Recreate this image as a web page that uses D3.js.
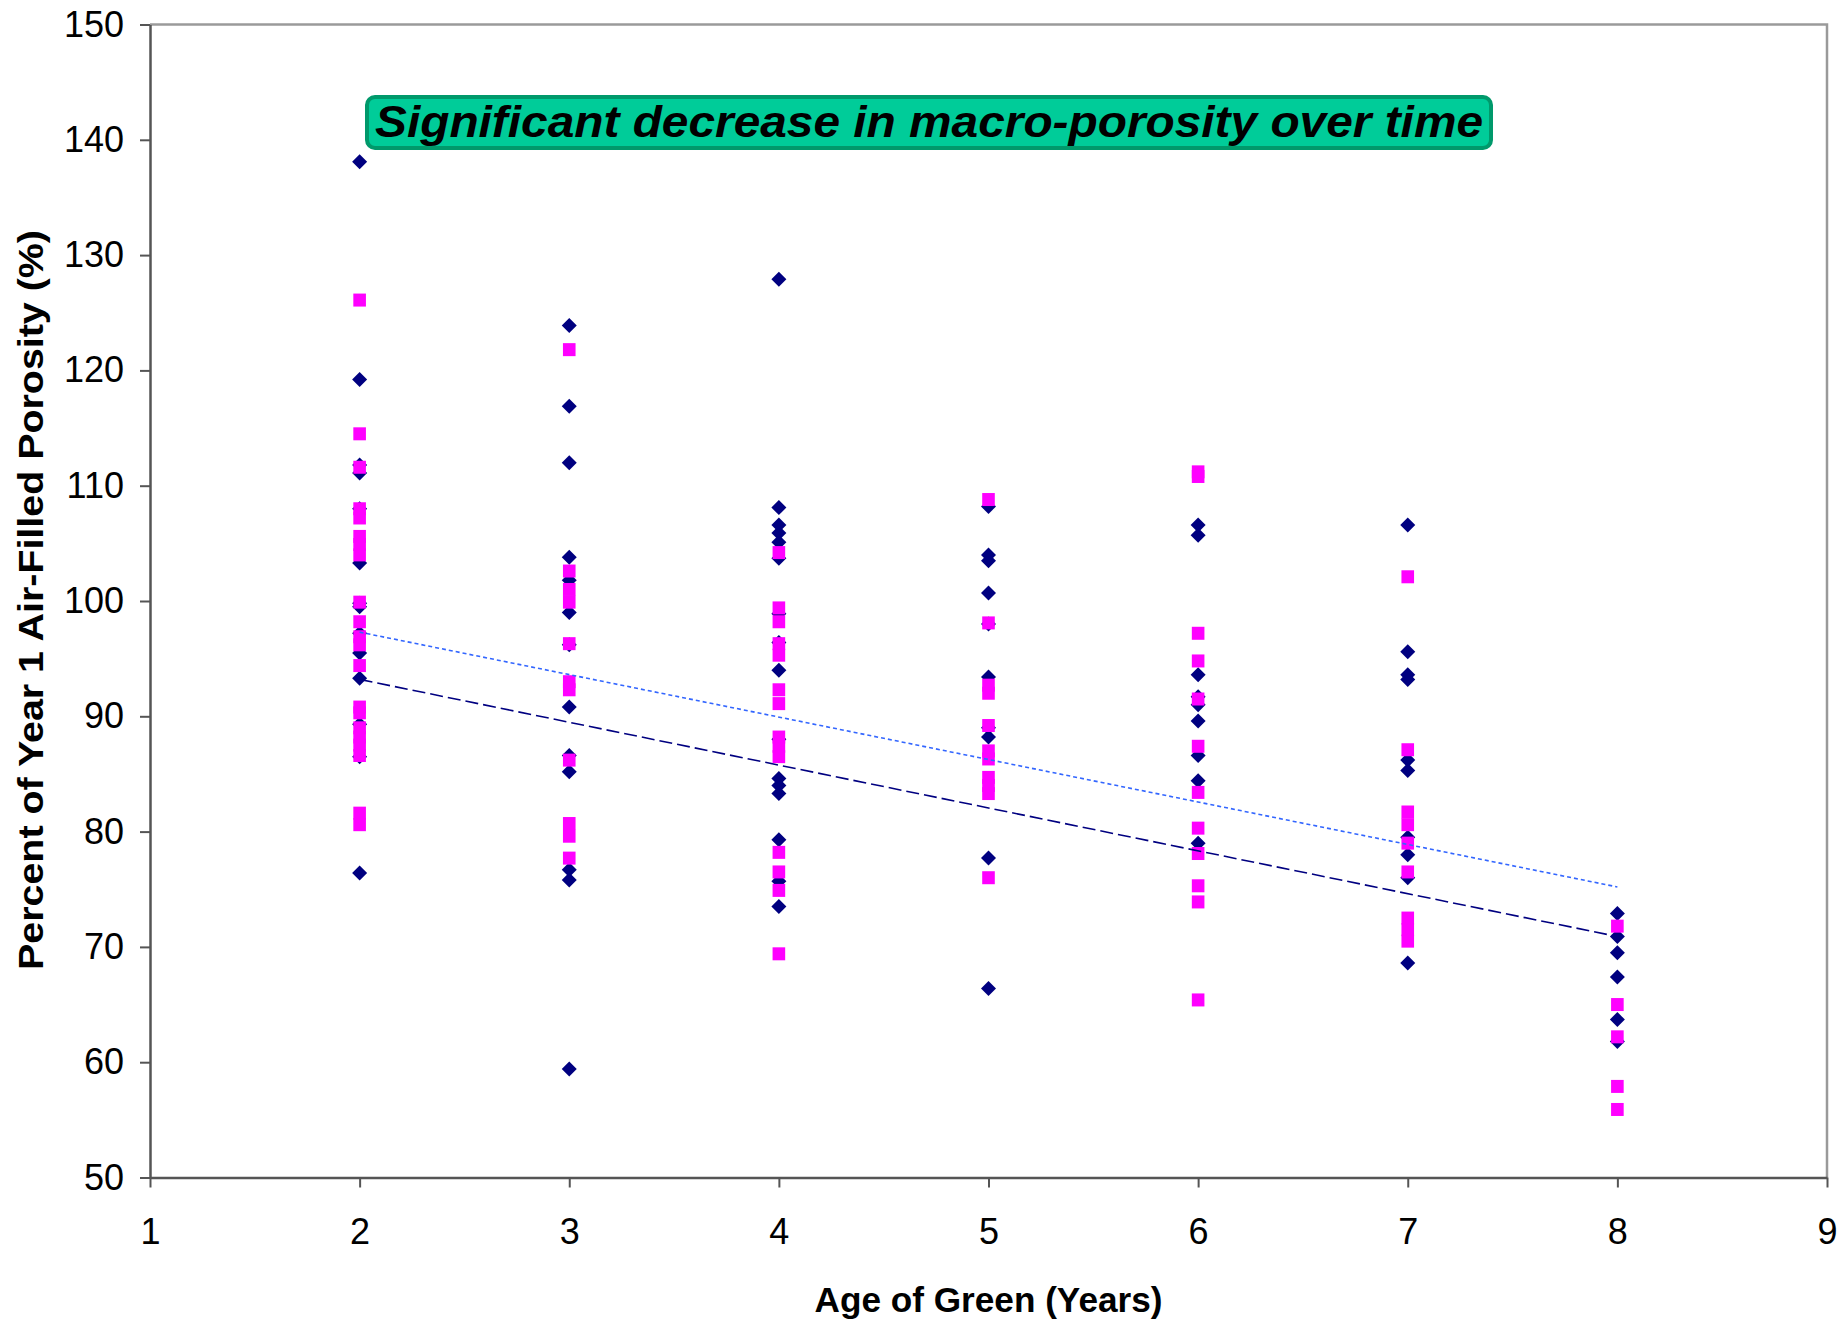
<!DOCTYPE html>
<html>
<head>
<meta charset="utf-8">
<script src="https://cdn.jsdelivr.net/npm/d3@7"></script>
<style>
  body { margin: 0; background: #fff; }
  text { font-family: "Liberation Sans", Arial, sans-serif; }
</style>
</head>
<body>
<svg id="chart"></svg>
<script>
// ages on the x axis (one column of points per age)
const ages = [2, 3, 4, 5, 6, 7, 8];

// navy diamonds, one list per age
const navyValues = [
  [138.1, 119.2, 111.8, 111.1, 108.0, 103.3, 99.8, 99.5, 97.2, 95.5, 93.3, 89.3, 86.5, 76.4],
  [123.9, 116.9, 112.0, 103.8, 101.8, 99.0, 96.2, 90.8, 86.6, 85.2, 76.7, 75.8, 59.4],
  [127.9, 108.1, 106.6, 105.9, 105.1, 103.7, 98.9, 96.4, 94.0, 88.0, 84.6, 84.0, 83.3, 79.3, 75.7, 73.5],
  [108.2, 104.0, 103.5, 100.7, 98.0, 93.4, 89.0, 88.2, 77.7, 66.4],
  [106.6, 105.7, 93.6, 91.7, 91.0, 89.6, 86.6, 84.4, 79.0],
  [106.6, 95.6, 93.6, 93.2, 86.2, 85.3, 79.5, 78.0, 76.0, 68.6],
  [72.9, 70.9, 69.5, 67.4, 63.7, 61.8]
];

// magenta squares, one list per age
const pinkValues = [
  [126.1, 114.5, 111.6, 108.0, 107.2, 105.6, 104.9, 104.0, 99.9, 98.2, 96.9, 96.2, 94.4, 90.8, 90.3, 89.0, 88.2, 87.5, 86.6, 81.6, 80.6],
  [121.8, 102.6, 101.0, 99.9, 96.3, 93.0, 92.3, 86.2, 80.7, 79.6, 77.7],
  [104.2, 99.4, 98.2, 96.3, 95.3, 92.3, 91.1, 88.2, 87.4, 86.5, 78.2, 76.5, 74.9, 69.4],
  [108.8, 98.1, 92.7, 92.0, 89.2, 87.0, 86.3, 84.7, 84.0, 83.3, 76.0],
  [111.2, 110.8, 97.2, 94.8, 91.5, 87.4, 83.4, 80.3, 78.1, 75.3, 73.9, 65.4],
  [102.1, 87.1, 81.7, 80.6, 79.0, 76.5, 72.5, 71.5, 70.5],
  [71.8, 65.0, 62.2, 57.9, 55.9]
];

// trend lines: value at first age, value at last age
const trendDotted = [97.3, 75.2];
const trendDashed = [93.2, 70.9];

const xTicks = [1, 2, 3, 4, 5, 6, 7, 8, 9];
const yTicks = [50, 60, 70, 80, 90, 100, 110, 120, 130, 140, 150];

const note = "Significant decrease in macro-porosity over time";
const xTitle = "Age of Green (Years)";
const yTitle = "Percent of Year 1 Air-Filled Porosity (%)";

const W = 1845, H = 1326;
const margin = { top: 24.5, right: 18, bottom: 148.5, left: 150 };
const width = W - margin.left - margin.right;
const height = H - margin.top - margin.bottom;

const svg = d3.select("#chart").attr("width", W).attr("height", H);
const g = svg.append("g").attr("transform", `translate(${margin.left},${margin.top})`);

const x = d3.scaleLinear().domain([1, 9]).range([0, width]);
const y = d3.scaleLinear().domain([50, 150]).range([height, 0]);

// plot border (top and right)
g.append("path")
  .attr("d", `M0,0H${width}V${height}`)
  .attr("fill", "none")
  .attr("stroke", "#9a9a9a")
  .attr("stroke-width", 2.5);

// axes
const yAxis = g.append("g")
  .call(d3.axisLeft(y).tickValues(yTicks).tickSize(10).tickPadding(16).tickSizeOuter(0));
const xAxis = g.append("g")
  .attr("transform", `translate(0,${height})`)
  .call(d3.axisBottom(x).tickValues(xTicks).tickSize(10).tickPadding(31).tickSizeOuter(0));

[xAxis, yAxis].forEach(ax => {
  ax.select(".domain").attr("stroke", "#555").attr("stroke-width", 2.5);
  ax.selectAll(".tick line").attr("stroke", "#555").attr("stroke-width", 2);
  ax.selectAll(".tick text")
    .attr("fill", "#000")
    .style("font-family", '"Liberation Sans", Arial, sans-serif')
    .style("font-size", "36px");
});

// points
let navyPoints = [], pinkPoints = [];
ages.forEach((a, i) => {
  navyValues[i].forEach(v => navyPoints.push({ age: a, value: v }));
  pinkValues[i].forEach(v => pinkPoints.push({ age: a, value: v }));
});

g.append("g").selectAll("path")
  .data(navyPoints)
  .join("path")
  .attr("transform", d => `translate(${x(d.age)},${y(d.value)})`)
  .attr("d", "M0,-7.5L7.5,0L0,7.5L-7.5,0Z")
  .attr("fill", "#000080");

g.append("g").selectAll("rect")
  .data(pinkPoints)
  .join("rect")
  .attr("x", d => x(d.age) - 6.3)
  .attr("y", d => y(d.value) - 6.5)
  .attr("width", 12.6)
  .attr("height", 13)
  .attr("fill", "#ff00ff");

// trend lines
const firstAge = ages[0], lastAge = ages[ages.length - 1];
g.append("line")
  .attr("x1", x(firstAge)).attr("y1", y(trendDotted[0]))
  .attr("x2", x(lastAge)).attr("y2", y(trendDotted[1]))
  .attr("stroke", "#3366ff")
  .attr("stroke-width", 1.6)
  .attr("stroke-dasharray", "4,3");
g.append("line")
  .attr("x1", x(firstAge)).attr("y1", y(trendDashed[0]))
  .attr("x2", x(lastAge)).attr("y2", y(trendDashed[1]))
  .attr("stroke", "#000080")
  .attr("stroke-width", 1.6)
  .attr("stroke-dasharray", "13,5");

// annotation box
svg.append("rect")
  .attr("x", 367).attr("y", 97)
  .attr("width", 1124).attr("height", 51)
  .attr("rx", 8)
  .attr("fill", "#00cc99")
  .attr("stroke", "#00996b")
  .attr("stroke-width", 4);
svg.append("text")
  .attr("x", 929).attr("y", 137)
  .attr("text-anchor", "middle")
  .attr("textLength", 1108)
  .attr("lengthAdjust", "spacingAndGlyphs")
  .style("font-size", "44px")
  .style("font-weight", "bold")
  .style("font-style", "italic")
  .text(note);

// axis titles
svg.append("text")
  .attr("x", margin.left + x(5))
  .attr("y", 1312)
  .attr("text-anchor", "middle")
  .attr("textLength", 348)
  .attr("lengthAdjust", "spacingAndGlyphs")
  .style("font-size", "35px")
  .style("font-weight", "bold")
  .text(xTitle);

svg.append("text")
  .attr("transform", "translate(43,600) rotate(-90)")
  .attr("text-anchor", "middle")
  .attr("textLength", 740)
  .attr("lengthAdjust", "spacingAndGlyphs")
  .style("font-size", "35px")
  .style("font-weight", "bold")
  .text(yTitle);
</script>
</body>
</html>
